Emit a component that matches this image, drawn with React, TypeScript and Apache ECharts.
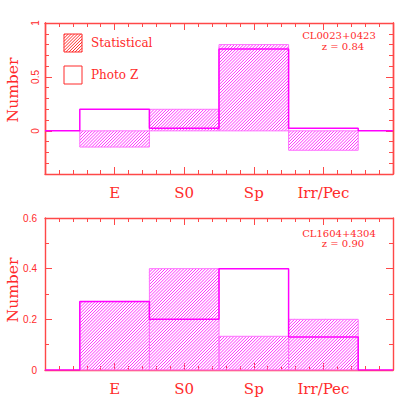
import { useEffect, useRef } from 'react';
import * as echarts from 'echarts';

const categories = ['E', 'S0', 'Sp', 'Irr/Pec'];
const statistical0023 = [-0.15, 0.2, 0.8, -0.18];
const photoZ0023 = [0.2, 0.025, 0.76, 0.025];
const statistical1604 = [0.27, 0.4, 0.133, 0.2];
const photoZ1604 = [0.27, 0.2, 0.4, 0.13];
const topTickLabels = [0, 0.5, 1];
const bottomTickLabels = [0, 0.2, 0.4, 0.6];

const RED = '#ff2a2a';
const AXIS = '#ff4848';
const MAG = '#ff00ff';
const MAG_LIGHT = '#ff70ff';
const HATCH = '#ff30ff';
const SERIF = 'DejaVu Serif';
const PERIOD = 3.1;

// diagonal "/" hatch segments clipped to rectangle [x0,x1] x [y0,y1] (screen coords)
function hatchSegments(x0: number, y0: number, x1: number, y1: number, period: number) {
  const segs: number[][] = [];
  const cStart = Math.ceil((x0 + y0) / period) * period;
  for (let c = cStart; c <= x1 + y1; c += period) {
    const xa = Math.max(x0, c - y1);
    const xb = Math.min(x1, c - y0);
    if (xb - xa > 0.2) segs.push([xa, c - xa, xb, c - xb]);
  }
  return segs;
}

function hatchPathData(x0: number, y0: number, x1: number, y1: number, period: number) {
  return hatchSegments(x0, y0, x1, y1, period)
    .map((s) => `M${s[0].toFixed(2)} ${s[1].toFixed(2)}L${s[2].toFixed(2)} ${s[3].toFixed(2)}`)
    .join('');
}

export default function App() {
  const ref = useRef<HTMLDivElement>(null);
  useEffect(() => {
    if (!ref.current) return;
    const chart = echarts.init(ref.current, null, { renderer: 'svg' });

    const xPair = (gridIndex: number) => {
      const common = {
        gridIndex,
        type: 'value',
        min: 0,
        max: 5,
        interval: 1,
        axisLine: { show: true, onZero: false, lineStyle: { color: AXIS, width: 1.4 } },
        axisTick: { show: true, inside: true, length: 7, lineStyle: { color: AXIS } },
        minorTick: { show: true, splitNumber: 5, length: 4, lineStyle: { color: AXIS } },
        splitLine: { show: false },
      };
      return [
        {
          ...common,
          position: 'bottom',
          axisLabel: {
            show: true,
            formatter: (v: number) => categories[v - 1] ?? '',
            color: RED,
            fontFamily: SERIF,
            fontSize: 15,
            margin: 11,
          },
        },
        { ...common, position: 'top', axisLabel: { show: false } },
      ];
    };

    const stepData = (vals: number[]) => [[0, 0], ...vals.map((v, i) => [i + 1, v]), [vals.length + 1, 0]];
    const barData = (vals: number[]) => vals.map((v, i) => [i + 1, v]);

    const hatchSeries = (xi: number, yi: number, vals: number[]) => ({
      type: 'custom',
      xAxisIndex: xi,
      yAxisIndex: yi,
      data: barData(vals),
      renderItem: (_p: any, api: any) => {
        const x = api.value(0);
        const v = api.value(1);
        const p0 = api.coord([x - 0.5, 0]);
        const p1 = api.coord([x + 0.5, v]);
        const rx0 = p0[0];
        const rx1 = p1[0];
        const ry0 = Math.min(p0[1], p1[1]);
        const ry1 = Math.max(p0[1], p1[1]);
        return {
          type: 'group',
          children: [
            {
              type: 'path',
              shape: { pathData: hatchPathData(rx0, ry0, rx1, ry1, PERIOD) },
              style: { fill: 'none', stroke: HATCH, lineWidth: 1 },
            },
            {
              type: 'rect',
              shape: { x: rx0, y: ry0, width: rx1 - rx0, height: ry1 - ry0 },
              style: { fill: 'none', stroke: MAG_LIGHT, lineWidth: 1 },
            },
          ],
        };
      },
    });

    const stepSeries = (xi: number, yi: number, vals: number[]) => ({
      type: 'line',
      xAxisIndex: xi,
      yAxisIndex: yi,
      step: 'middle',
      symbol: 'none',
      data: stepData(vals),
      lineStyle: { color: MAG, width: 1.5 },
      z: 5,
    });

    const yLine = { show: true, onZero: false, lineStyle: { color: AXIS, width: 1.4 } };

    const legendHatch = hatchSegments(64, 34, 82, 52, PERIOD).map((s) => ({
      type: 'line',
      shape: { x1: s[0], y1: s[1], x2: s[2], y2: s[3] },
      style: { stroke: RED, lineWidth: 1 },
    }));

    const option: any = {
      animation: false,
      grid: [
        { left: 45, right: 22, top: 23, height: 151 },
        { left: 45, right: 22, top: 218, height: 152 },
      ],
      xAxis: [...xPair(0), ...xPair(1)],
      yAxis: [
        {
          gridIndex: 0, type: 'value', position: 'left', min: -0.4, max: 1, interval: 0.1,
          axisLine: yLine,
          axisTick: { inside: true, length: 4, lineStyle: { color: AXIS } },
          axisLabel: { show: false }, splitLine: { show: false },
        },
        {
          gridIndex: 0, type: 'value', position: 'left', min: -0.4, max: 1,
          axisLine: yLine,
          axisTick: { inside: true, length: 7, customValues: topTickLabels, lineStyle: { color: AXIS } },
          axisLabel: {
            customValues: topTickLabels, rotate: 90, color: RED, fontSize: 10,
            fontFamily: 'Liberation Sans', margin: 5, formatter: (v: number) => String(v),
          },
          splitLine: { show: false },
        },
        {
          gridIndex: 0, type: 'value', position: 'right', min: -0.4, max: 1, interval: 0.1,
          axisLine: yLine,
          axisTick: { inside: true, length: 4, lineStyle: { color: AXIS } },
          axisLabel: { show: false }, splitLine: { show: false },
        },
        {
          gridIndex: 0, type: 'value', position: 'right', min: -0.4, max: 1,
          axisLine: yLine,
          axisTick: { inside: true, length: 7, customValues: topTickLabels, lineStyle: { color: AXIS } },
          axisLabel: { show: false }, splitLine: { show: false },
        },
        {
          gridIndex: 1, type: 'value', position: 'left', min: 0, max: 0.6, interval: 0.2,
          axisLine: yLine,
          axisTick: { inside: true, length: 7, lineStyle: { color: AXIS } },
          minorTick: { show: true, splitNumber: 2, length: 4, lineStyle: { color: AXIS } },
          axisLabel: {
            color: RED, fontSize: 10, fontFamily: 'Liberation Sans', margin: 8,
            customValues: bottomTickLabels, formatter: (v: number) => String(v),
          },
          splitLine: { show: false },
        },
        {
          gridIndex: 1, type: 'value', position: 'right', min: 0, max: 0.6, interval: 0.2,
          axisLine: yLine,
          axisTick: { inside: true, length: 7, lineStyle: { color: AXIS } },
          minorTick: { show: true, splitNumber: 2, length: 4, lineStyle: { color: AXIS } },
          axisLabel: { show: false }, splitLine: { show: false },
        },
      ],
      series: [
        hatchSeries(0, 0, statistical0023),
        stepSeries(0, 0, photoZ0023),
        hatchSeries(2, 4, statistical1604),
        stepSeries(2, 4, photoZ1604),
      ],
      graphic: [
        { type: 'text', x: 13, y: 90, rotation: Math.PI / 2, style: { text: 'Number', fill: RED, font: `15.5px "${SERIF}"`, align: 'center', verticalAlign: 'middle' } },
        { type: 'text', x: 13, y: 290, rotation: Math.PI / 2, style: { text: 'Number', fill: RED, font: `15.5px "${SERIF}"`, align: 'center', verticalAlign: 'middle' } },
        { type: 'group', children: legendHatch },
        { type: 'rect', shape: { x: 64, y: 34, width: 18, height: 18 }, style: { fill: 'none', stroke: RED, lineWidth: 1 } },
        { type: 'text', x: 91, y: 43, style: { text: 'Statistical', fill: RED, font: `12px "${SERIF}"`, align: 'left', verticalAlign: 'middle' } },
        { type: 'rect', shape: { x: 64, y: 66, width: 18, height: 18 }, style: { fill: '#fff', stroke: RED, lineWidth: 1 } },
        { type: 'text', x: 91, y: 75, style: { text: 'Photo Z', fill: RED, font: `12px "${SERIF}"`, align: 'left', verticalAlign: 'middle' } },
        { type: 'text', x: 339, y: 35.5, style: { text: 'CL0023+0423', fill: RED, font: `10px "${SERIF}"`, align: 'center', verticalAlign: 'middle' } },
        { type: 'text', x: 343, y: 46.5, style: { text: 'z = 0.84', fill: RED, font: `10px "${SERIF}"`, align: 'center', verticalAlign: 'middle' } },
        { type: 'text', x: 339, y: 233, style: { text: 'CL1604+4304', fill: RED, font: `10px "${SERIF}"`, align: 'center', verticalAlign: 'middle' } },
        { type: 'text', x: 343, y: 243.5, style: { text: 'z = 0.90', fill: RED, font: `10px "${SERIF}"`, align: 'center', verticalAlign: 'middle' } },
      ],
    };
    chart.setOption(option);
    return () => chart.dispose();
  }, []);
  return (
    <div
      ref={ref}
      style={{ position: 'fixed', left: 0, top: 0, width: 415, height: 415, background: '#fff' }}
    />
  );
}
